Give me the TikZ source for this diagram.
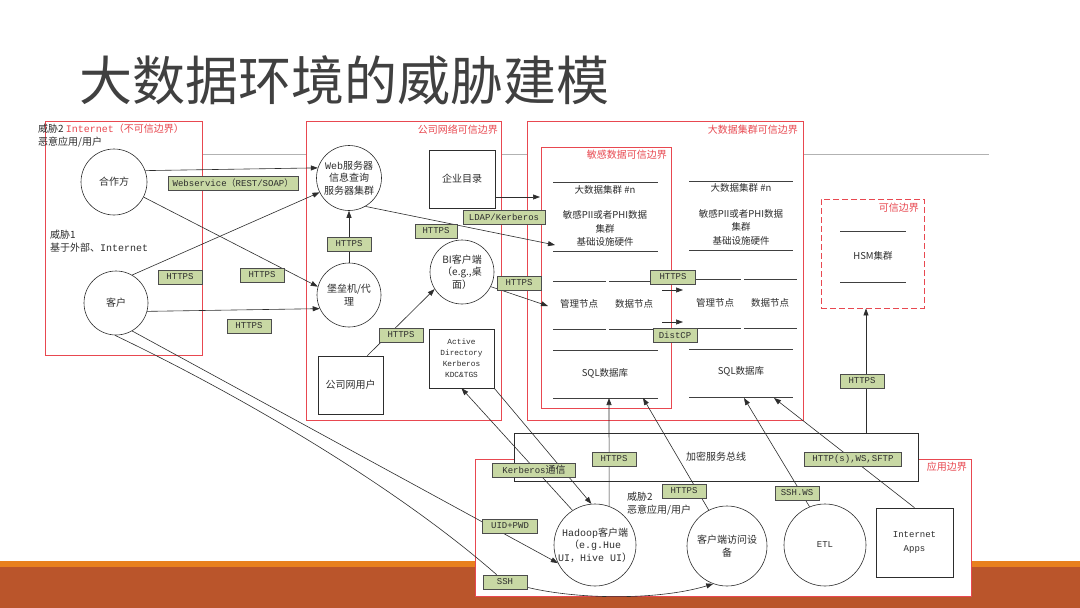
\documentclass[tikz,border=0pt]{standalone}
\usepackage{fontspec}
\setmainfont{Noto Sans CJK SC}
\newfontfamily\mono{Liberation Mono}
\newfontfamily\cjkf{Noto Sans CJK SC}
\usetikzlibrary{arrows.meta}
\definecolor{redc}{RGB}{232,72,80}
\definecolor{lblg}{RGB}{200,216,164}
\definecolor{orangec}{RGB}{232,128,30}
\definecolor{rustc}{RGB}{186,85,43}
\definecolor{titlec}{RGB}{64,64,64}
\definecolor{inkc}{RGB}{45,45,45}
\pgfdeclarelayer{front}
\pgfsetlayers{main,front}
\newcommand\dtext{\fontsize{10}{12.5}\selectfont}
\newcommand\stext{\fontsize{9.5}{13.5}\selectfont}
\newcommand\lfont{\mono\fontsize{9}{11}\selectfont}
\begin{document}
\begin{tikzpicture}[x=1pt,y=-1pt,
  bnd/.style={draw=redc, line width=0.8pt, fill=white},
  circ/.style={circle, draw=inkc, line width=0.6pt, fill=white, minimum size=#1, inner sep=0pt, align=center, font=\dtext, text=inkc},
  bx/.style={rectangle, draw=inkc, line width=0.6pt, fill=white, align=center, font=\dtext, text=inkc, inner sep=0pt},
  lbl/.style={draw=black!70, fill=lblg, line width=0.6pt, font=\lfont, text=inkc, inner sep=0pt, minimum height=14pt, minimum width=#1},
  lbl/.default=44pt,
  conn/.style={draw=inkc, line width=0.6pt},
  arr/.style={conn, -{Triangle[length=7pt,width=5pt]}},
  sepl/.style={draw=black!75, line width=0.7pt},
  rtxt/.style={text=redc, font=\dtext, inner sep=0pt},
  txt/.style={font=\dtext, text=inkc, inner sep=0pt, align=center},
  ctxt/.style={font=\stext, text=inkc, inner sep=0pt, align=center}]
\useasboundingbox (0,0) rectangle (1080,608);
\fill[white] (0,0) rectangle (1080,608);
% background bands
\fill[orangec] (0,561) rectangle (1080,567);
\fill[rustc] (0,567) rectangle (1080,608);
% title
\node[anchor=west, font=\fontsize{53}{53}\selectfont, text=titlec, inner sep=0pt] (title) at (79,80) {大数据环境的威胁建模};
% gray rule
\draw[gray!60, line width=0.8pt] (202,154) -- (989,154);
% boundaries
\draw[bnd] (45,121) rectangle (202,355);
\draw[bnd] (306,121) rectangle (501,420);
\draw[bnd] (527,121) rectangle (803,420);
\draw[bnd] (541,147) rectangle (671,408);
\node[draw=redc, line width=0.9pt, dash pattern=on 6pt off 3pt, fill=white, minimum width=103pt, minimum height=109pt, inner sep=0pt] (hsm) at (872.5,253.5) {};
\draw[bnd] (475,459) rectangle (971,596);
\node[bx, minimum width=404pt, minimum height=48pt] (bus) at (716,457) {加密服务总线};
% boundary titles
\node[anchor=north west, align=left, font=\dtext, text=inkc, inner sep=0pt] (thr2a) at (38,124) {威胁2 \textcolor{redc}{{\mono Internet}（不可信边界）}\\恶意应用/用户};
\node[anchor=north west, align=left, font=\dtext, text=inkc, inner sep=0pt] (thr1) at (50,230) {威胁1\\基于外部、{\mono Internet}};
\node[rtxt, anchor=north east] (lcomp) at (498,125) {公司网络可信边界};
\node[rtxt, anchor=north east] (lbig) at (798,125) {大数据集群可信边界};
\node[rtxt, anchor=north east] (lsens) at (667,150) {敏感数据可信边界};
\node[rtxt, anchor=north east] (lhsm) at (919,203) {可信边界};
\node[rtxt, anchor=north east] (lapp) at (967,462) {应用边界};
\node[anchor=north west, align=left, font=\dtext, text=inkc, inner sep=0pt] (thr2b) at (627,492) {威胁2\\恶意应用/用户};
% internet nodes
\node[circ=66pt] (partner) at (114,182) {合作方};
\node[circ=64pt] (client) at (116,303) {客户};
% company nodes
\node[circ=65pt] (web) at (349,178) {{\mono Web}服务器\\信息查询\\服务器集群};
\node[circ=64pt] (bastion) at (349,295) {堡垒机/代\\理};
\node[circ=64pt] (bi) at (462,272) {BI客户端\\（e.g.,桌\\面）};
\node[bx, minimum width=66pt, minimum height=58pt] (dir) at (462,179) {企业目录};
\node[bx, minimum width=65pt, minimum height=58pt] (user) at (350.5,385) {公司网用户};
\node[bx, minimum width=65pt, minimum height=59pt, font=\mono\fontsize{7.8}{11}\selectfont] (ad) at (461.5,358.5) {Active\\Directory\\Kerberos\\KDC\&TGS};
% clusters
\foreach \yy in {182,251,350,398} \draw[sepl] (553,\yy) -- (658,\yy);
\foreach \yy in {281,329} {\draw[sepl] (553,\yy) -- (606,\yy); \draw[sepl] (609,\yy) -- (658,\yy);}
\foreach \yy in {181,250,349,397} \draw[sepl] (689,\yy) -- (793,\yy);
\foreach \yy in {279,328} {\draw[sepl] (689,\yy) -- (741,\yy); \draw[sepl] (744,\yy) -- (797,\yy);}
\node[ctxt] (c1a) at (605,190) {大数据集群 \#n};
\node[ctxt] (c1b) at (605,228.5) {敏感PII或者PHI数据\\集群\\基础设施硬件};
\node[ctxt] (c1m) at (579,304) {管理节点};
\node[ctxt] (c1d) at (634,304) {数据节点};
\node[ctxt] (c1s) at (605,373) {SQL数据库};
\node[ctxt] (c2a) at (741,188) {大数据集群 \#n};
\node[ctxt] (c2b) at (741,227) {敏感PII或者PHI数据\\集群\\基础设施硬件};
\node[ctxt] (c2m) at (715,303) {管理节点};
\node[ctxt] (c2d) at (770,303) {数据节点};
\node[ctxt] (c2s) at (741,371) {SQL数据库};
\draw[sepl] (840,231) -- (906,231);
\draw[sepl] (840,282) -- (906,282);
\node[ctxt] (hsmt) at (873,256) {HSM集群};
% application nodes
\node[circ=82pt] (hadoop) at (595,545) {{\mono Hadoop}客户端\\（{\mono e.g.Hue}\\{\mono UI}，{\mono Hive UI}）};
\node[circ=80pt] (access) at (727,546) {客户端访问设\\备};
\node[circ=82pt, font=\mono\fontsize{9}{11}\selectfont] (etl) at (825,545) {ETL};
\node[bx, minimum width=77pt, minimum height=69pt, font=\mono\fontsize{9}{14}\selectfont] (apps) at (914.5,542.5) {Internet\\Apps};
% labels (front layer)
\begin{pgfonlayer}{front}
\node[lbl=130pt] (lws) at (233,183) {Webservice{\cjkf （}REST/SOAP{\cjkf ）}};
\node[lbl] (lh1) at (180,277) {HTTPS};
\node[lbl] (lh2) at (262,275) {HTTPS};
\node[lbl] (lh3) at (249,326) {HTTPS};
\node[lbl] (lh4) at (349,244) {HTTPS};
\node[lbl=42pt] (lh5) at (436,231) {HTTPS};
\node[lbl=82pt] (lldap) at (504,217) {LDAP/Kerberos};
\node[lbl] (lh6) at (401,335) {HTTPS};
\node[lbl] (lh7) at (519,283) {HTTPS};
\node[lbl=45pt] (lh8) at (673,277) {HTTPS};
\node[lbl] (ldist) at (675,335) {DistCP};
\node[lbl] (lh9) at (862,381) {HTTPS};
\node[lbl=83pt] (lkrb) at (534,470) {Kerberos{\cjkf\fontsize{10}{11}\selectfont 通信}};
\node[lbl] (lh10) at (614,459) {HTTPS};
\node[lbl] (lh11) at (684,491) {HTTPS};
\node[lbl=55pt] (luid) at (510,526) {UID+PWD};
\node[lbl] (ssh) at (505,582) {SSH};
\node[lbl] (lsshws) at (797,493) {SSH.WS};
\node[lbl=97pt] (lhttp) at (853,459) {HTTP(s),WS,SFTP};
\end{pgfonlayer}
% connectors
\draw[arr] (partner.20) -- (web.162);
\draw[arr] (client.60) -- (web.206);
\draw[arr] (partner.333) -- (bastion.165);
\draw[arr] (client.345) -- (bastion.205);
\draw[arr] (bastion.north) -- (web.south);
\coordinate (t1) at (555,245);
\draw[arr] (web.300) -- (t1);
\coordinate (t2) at (540,197);
\draw[arr] (dir.east |- t2) -- (t2);
\coordinate (t3) at (548,306);
\draw[arr] (bi.333) -- (t3);
\draw[arr] ([xshift=-16pt]user.north east) -- (bi.212);
\coordinate (h1) at (662,290); \coordinate (h2) at (683,290);
\draw[arr] (h1) -- (h2);
\coordinate (h3) at (662,322); \coordinate (h4) at (683,322);
\draw[arr] (h3) -- (h4);
\coordinate (t4) at (609,398);
\draw[arr] (hadoop.70) -- (t4);
\coordinate (t5) at (643,398);
\draw[arr] (access.117) -- (t5);
\coordinate (t6) at (744,398);
\draw[arr] (etl.112) -- (t6);
\coordinate (t7) at (774,398);
\draw[arr] (apps.north) -- (t7);
\coordinate (b1) at (866,433);
\draw[arr] (b1) -- (b1 |- hsm.south);
\draw[arr] (hadoop.123) -- (ad.south);
\draw[arr] (ad.south east) -- (hadoop.95);
\draw[arr] (client.300) -- (hadoop.206);
\draw[conn] (client.268) .. controls (250,400) and (400,490) .. (ssh);
\draw[arr] (ssh) .. controls (580,600) and (660,600) .. (access.250);
\end{tikzpicture}
\end{document}
